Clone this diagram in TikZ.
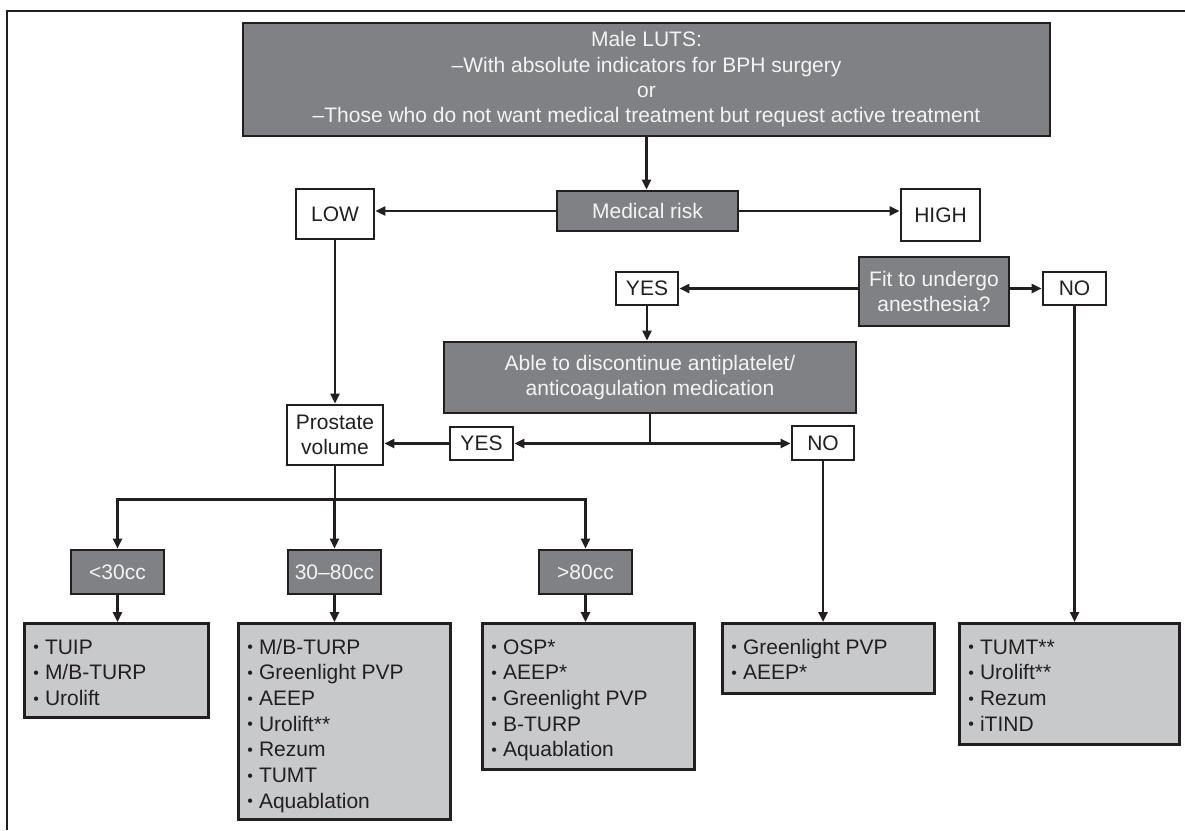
\documentclass[tikz,border=0pt]{standalone}
\usepackage{fontspec}
\setmainfont{Liberation Sans}
\usetikzlibrary{arrows.meta,calc}
\definecolor{dkfill}{HTML}{808185}
\definecolor{ltfill}{HTML}{C8C9CB}
\definecolor{inkc}{HTML}{231F20}
\definecolor{paletext}{HTML}{F4F4F4}
\newcommand{\bl}{\raisebox{1.5pt}{\fontsize{16}{16}\selectfont •}\hspace{6pt}}
\newcommand{\lstbox}[3]{\parbox[c][#2pt][t]{#1pt}{\leftskip=9pt\baselineskip=25.7pt\vspace*{13pt}\strut #3}}
\tikzset{
  basebox/.style={draw=inkc, line width=2.8pt, inner sep=0pt, font=\fontsize{21}{25.3}\selectfont, align=center},
  darkbox/.style={basebox, fill=dkfill, text=paletext},
  whitebox/.style={basebox, fill=white, text=inkc},
  listbox/.style={basebox, fill=ltfill, text=inkc, anchor=north west, align=left},
  arr/.style={draw=inkc, line width=2.4pt, -{Triangle[length=10pt,width=9pt]}},
  conn/.style={draw=inkc, line width=2.4pt},
  frameline/.style={draw=inkc, line width=1.6pt},
}
\begin{document}
\begin{tikzpicture}[x=1pt,y=-1pt]
\useasboundingbox (0,0) rectangle (1185,830);
% frame (top and left edges)
\coordinate (fr1) at (1185,11);
\coordinate (fr2) at (7,11);
\coordinate (fr3) at (7,830);
\draw[frameline] (fr1) -- (fr2) -- (fr3);

% nodes
\node[darkbox, minimum width=807pt, minimum height=113pt] (top) at (646.5,79.5)
  {Male LUTS:\\–With absolute indicators for BPH surgery\\or\\–Those who do not want medical treatment but request active treatment};
\node[darkbox, minimum width=181pt, minimum height=40pt] (med) at (647.5,211) {Medical risk};
\node[whitebox, minimum width=78pt, minimum height=50pt] (low) at (335,214) {LOW};
\node[whitebox, minimum width=79pt, minimum height=52pt] (high) at (940.5,215) {HIGH};
\node[whitebox, minimum width=62pt, minimum height=33pt] (yes1) at (647,288.5) {YES};
\node[darkbox, minimum width=150pt, minimum height=69pt] (fit) at (934,291.5) {Fit to undergo\\anesthesia?};
\node[whitebox, minimum width=63pt, minimum height=33pt] (no1) at (1074.5,288.5) {NO};
\node[darkbox, minimum width=412pt, minimum height=71pt] (able) at (650,377.5) {Able to discontinue antiplatelet/\\anticoagulation medication};
\node[whitebox, minimum width=96pt, minimum height=60pt] (prost) at (335,435) {Prostate\\volume};
\node[whitebox, minimum width=63pt, minimum height=33pt] (yes2) at (481.5,443.5) {YES};
\node[whitebox, minimum width=62pt, minimum height=34pt] (no2) at (823,443) {NO};
\node[darkbox, minimum width=93pt, minimum height=44pt] (c30) at (117.5,572) {<30cc};
\node[darkbox, minimum width=93pt, minimum height=44pt] (c3080) at (334.5,572) {30–80cc};
\node[darkbox, minimum width=93pt, minimum height=44pt] (c80) at (585.5,572) {>80cc};

\node[listbox] (l1) at (23,622) {\lstbox{184}{94}{\bl TUIP\\\bl M/B-TURP\\\bl Urolift}};
\node[listbox] (l2) at (237,622) {\lstbox{212}{196}{\bl M/B-TURP\\\bl Greenlight PVP\\\bl AEEP\\\bl Urolift**\\\bl Rezum\\\bl TUMT\\\bl Aquablation}};
\node[listbox] (l3) at (481,622) {\lstbox{212}{146}{\bl OSP*\\\bl AEEP*\\\bl Greenlight PVP\\\bl B-TURP\\\bl Aquablation}};
\node[listbox] (l4) at (721,622) {\lstbox{212}{70}{\bl Greenlight PVP\\\bl AEEP*}};
\node[listbox] (l5) at (958,622) {\lstbox{220}{121}{\bl TUMT**\\\bl Urolift**\\\bl Rezum\\\bl iTIND}};

% connectors
\draw[arr] (top.south) -- (top.south |- med.north);
\draw[arr] (med.west) -- (med.west -| low.east);
\draw[arr] (med.east) -- (med.east -| high.west);
\draw[arr] (low.south) -- (low.south |- prost.north);
\draw[arr] (fit.west |- yes1.east) -- (yes1.east);
\draw[arr] (fit.east |- no1.west) -- (no1.west);
\draw[arr] (yes1.south) -- (yes1.south |- able.north);
\coordinate (jab) at (able.south |- yes2.east);
\draw[conn] (able.south) -- (jab);
\draw[arr] (jab) -- (yes2.east);
\draw[arr] (jab) -- (jab -| no2.west);
\draw[arr] (yes2.west) -- (yes2.west -| prost.east);
\coordinate (jpv) at ($(prost.south)+(0,33)$);
\draw[conn] (prost.south) -- (jpv);
\draw[arr] (jpv) -| (c30.north);
\draw[arr] (jpv) -| (c80.north);
\draw[arr] (jpv) -- (jpv -| c3080.north) -- (c3080.north);
\draw[arr] (c30.south) -- (c30.south |- l1.north);
\draw[arr] (c3080.south) -- (c3080.south |- l2.north);
\draw[arr] (c80.south) -- (c80.south |- l3.north);
\draw[arr] (no2.south) -- (no2.south |- l4.north);
\draw[arr] (no1.south) -- (no1.south |- l5.north);
\end{tikzpicture}
\end{document}
